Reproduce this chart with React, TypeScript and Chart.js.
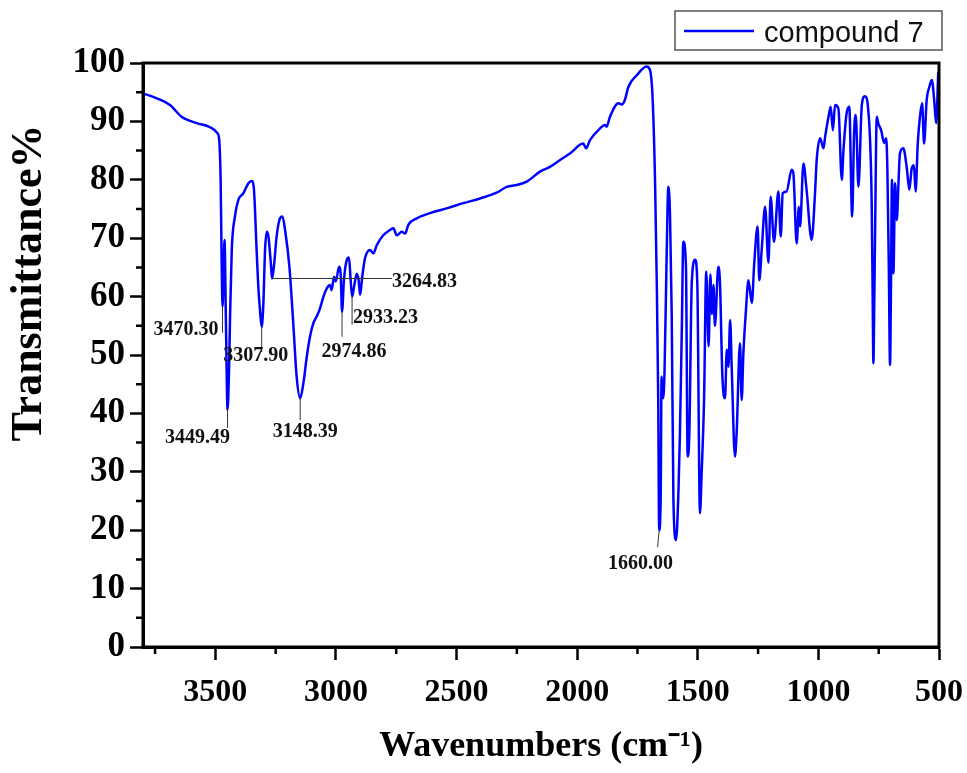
import { useEffect, useRef } from 'react';
import { Chart, registerables } from 'chart.js';

Chart.register(...registerables);

// ---- data ----
const seriesLabel = 'compound 7';

const wavenumbers = [
  3800, 3745, 3688, 3640, 3577, 3522, 3492, 3484, 3478, 3474, 3470.3, 3466, 3462, 3456, 3449.5, 3443, 3439, 3432,
  3419, 3405, 3384, 3363, 3349, 3340, 3329, 3322, 3315, 3308, 3301, 3294, 3287, 3280, 3270, 3264.8, 3256, 3246,
  3232, 3222, 3211, 3193, 3177, 3163, 3148.4, 3135, 3121, 3108, 3094, 3080, 3066, 3052, 3038, 3025, 3018, 3008,
  3001, 2987, 2980, 2974.9, 2967, 2955, 2946, 2940, 2933.2, 2925, 2914, 2906, 2900, 2891, 2880, 2859, 2845, 2831,
  2804, 2776, 2762, 2748, 2727, 2713, 2700, 2665, 2610, 2541, 2472, 2403, 2334, 2292, 2251, 2209, 2154, 2113,
  2071, 2030, 1975, 1963, 1947, 1905, 1885, 1878, 1864, 1829, 1815, 1802, 1788, 1753, 1712, 1698, 1687, 1677,
  1670, 1664, 1660, 1654, 1650, 1644, 1638, 1630, 1622, 1615, 1608, 1601, 1590, 1580, 1574, 1566, 1560, 1549,
  1542, 1535, 1525, 1511, 1502, 1491, 1484, 1474, 1465, 1455, 1448, 1441, 1435, 1429, 1415, 1408, 1398, 1387,
  1380, 1373, 1366, 1359, 1346, 1339, 1325, 1318, 1311, 1301, 1290, 1276, 1266, 1252, 1245, 1235, 1221, 1207,
  1198, 1184, 1166, 1156, 1148, 1132, 1111, 1104, 1090, 1081, 1076, 1062, 1049, 1028, 1014, 1007, 993, 979,
  972, 958, 949, 940, 931, 917, 903, 896, 883, 872, 860, 852, 845, 834, 820, 807, 793, 779, 775, 772, 768, 765,
  758, 752, 740, 727, 719, 714, 708, 703, 699, 695, 689, 682, 675, 668, 662, 648, 634, 623, 613, 604, 597, 588,
  579, 570, 562, 551, 540, 530, 520, 512, 503,
];

const transmittance = [
  94.8, 94.0, 92.8, 90.8, 89.7, 89.0, 88.0, 86.8, 79.5, 66.3, 58.3, 64.0, 69.7, 55.0, 40.6, 48.0, 56.6, 68.0,
  73.7, 76.5, 77.7, 79.4, 79.8, 78.3, 68.0, 61.7, 57.7, 54.8, 58.8, 68.0, 71.1, 70.3, 65.7, 63.1, 65.7, 70.3,
  73.4, 73.7, 71.4, 65.1, 55.4, 46.3, 42.6, 45.2, 49.7, 53.1, 55.4, 56.6, 58.0, 60.0, 61.4, 62.0, 61.1, 63.4,
  62.6, 65.1, 63.4, 57.4, 62.8, 66.3, 66.7, 63.4, 60.0, 61.7, 63.9, 62.8, 60.3, 63.4, 66.5, 68.0, 67.4, 68.8,
  70.5, 71.4, 71.7, 70.5, 71.1, 70.8, 72.3, 73.4, 74.3, 75.1, 76.0, 76.8, 77.8, 78.8, 79.1, 79.7, 81.4, 82.2,
  83.4, 84.5, 86.2, 85.4, 86.8, 88.8, 89.4, 89.1, 90.8, 93.1, 92.9, 93.7, 95.9, 97.9, 99.4, 98.8, 93.7, 79.4,
  62.3, 42.3, 20.0, 25.2, 46.3, 42.6, 47.0, 65.0, 78.8, 73.7, 56.6, 25.2, 18.3, 26.9, 36.6, 55.0, 69.4, 65.1,
  32.6, 36.6, 62.3, 66.3, 62.3, 22.9, 29.8, 42.3, 64.3, 51.5, 63.8, 57.0, 62.0, 55.0, 65.1, 62.3, 46.3, 42.6,
  50.9, 48.0, 56.0, 47.4, 32.6, 36.6, 52.0, 42.3, 50.3, 57.2, 62.8, 58.9, 65.7, 72.0, 62.8, 68.0, 75.4, 65.8,
  77.1, 69.4, 78.0, 70.3, 77.7, 78.0, 81.7, 81.2, 69.1, 75.4, 72.0, 82.8, 78.3, 69.7, 77.7, 83.4, 87.1, 85.4,
  87.4, 90.8, 92.5, 88.5, 92.8, 92.2, 80.0, 85.1, 91.4, 92.5, 73.7, 88.0, 91.1, 78.8, 92.8, 94.3, 91.8, 76.0, 60.0, 48.6, 60.0, 70.8,
  90.8, 89.7, 88.5, 86.3, 87.1, 81.7, 65.0, 48.3, 62.0, 80.0, 64.0, 79.4, 73.1, 79.4, 84.5, 85.4, 82.2, 78.3, 82.0, 82.5, 78.0, 86.2,
  90.8, 93.1, 86.2, 93.7, 95.9, 97.1, 93.7, 89.7, 98.5,
];

const xTickValues = [3500, 3000, 2500, 2000, 1500, 1000, 500];
const xMinorTickValues = [3750, 3250, 2750, 2250, 1750, 1250, 750];
const yTickValues = [0, 10, 20, 30, 40, 50, 60, 70, 80, 90, 100];
const yMinorTickValues = [5, 15, 25, 35, 45, 55, 65, 75, 85, 95];

const xAxisTitle = 'Wavenumbers (cm⁻¹)';
const yAxisTitle = 'Transmittance%';

// peak annotations
const peakLabels = ['3470.30', '3449.49', '3307.90', '3264.83', '3148.39', '2974.86', '2933.23', '1660.00'];
const peakWavenumbers = [3470.3, 3449.49, 3307.9, 3264.83, 3148.39, 2974.86, 2933.23, 1660.0];
const peakTransmittance = [58.3, 40.6, 54.8, 63.1, 42.6, 57.4, 60.0, 20.0];

// callout layout (pixels): leader direction/length and label offset from the leader end
const calloutLayout = [
  { dir: 'down', len: 26, dx: -4, dy: -3, align: 'right' },
  { dir: 'down', len: 18, dx: -30, dy: 10, align: 'center' },
  { dir: 'down', len: 25, dx: -6, dy: 4, align: 'center' },
  { dir: 'right', len: 120, dx: 0, dy: 3, align: 'left' },
  { dir: 'down', len: 22, dx: 5, dy: 12, align: 'center' },
  { dir: 'down', len: 25, dx: 12, dy: 15, align: 'center' },
  { dir: 'down', len: 28, dx: 1, dy: -7, align: 'left' },
  { dir: 'slant', len: 17, dx: -17, dy: 17, align: 'center' },
];

const serif = "'Liberation Serif', 'Times New Roman', serif";
const sans = "'Liberation Sans', Arial, sans-serif";

const decorPlugin = {
  id: 'decor',
  afterDraw(chart: any) {
    const { ctx, chartArea: a } = chart;
    const xs = chart.scales.x;
    const ys = chart.scales.y;
    ctx.save();

    // frame
    ctx.strokeStyle = '#000';
    ctx.lineWidth = 3;
    ctx.strokeRect(a.left, a.top, a.right - a.left, a.bottom - a.top);

    // minor ticks
    ctx.lineWidth = 2.5;
    ctx.beginPath();
    for (const v of xMinorTickValues) {
      const px = xs.getPixelForValue(v);
      ctx.moveTo(px, a.bottom);
      ctx.lineTo(px, a.bottom + 7);
    }
    for (const v of yMinorTickValues) {
      const py = ys.getPixelForValue(v);
      ctx.moveTo(a.left - 7, py);
      ctx.lineTo(a.left, py);
    }
    ctx.stroke();

    // peak callouts
    ctx.font = `bold 20px ${serif}`;
    ctx.fillStyle = '#111';
    ctx.textBaseline = 'middle';
    peakLabels.forEach((label, i) => {
      const L = calloutLayout[i];
      const px = xs.getPixelForValue(peakWavenumbers[i]);
      const py = ys.getPixelForValue(peakTransmittance[i]);
      let ex = px;
      let ey = py;
      if (L.dir === 'down') ey = py + L.len;
      else if (L.dir === 'right') ex = px + L.len;
      else { ex = px - 1.6; ey = py + L.len; }
      ctx.strokeStyle = '#333';
      ctx.lineWidth = 1;
      ctx.beginPath();
      ctx.moveTo(px, py);
      ctx.lineTo(ex, ey);
      ctx.stroke();
      ctx.textAlign = L.align as CanvasTextAlign;
      ctx.fillText(label, ex + L.dx, ey + L.dy);
    });

    // y axis title
    ctx.save();
    ctx.translate(30, 283);
    ctx.rotate(-Math.PI / 2);
    ctx.font = `bold 44px ${serif}`;
    ctx.fillStyle = '#000';
    ctx.textAlign = 'center';
    ctx.textBaseline = 'middle';
    ctx.fillText(yAxisTitle, 0, 0);
    ctx.restore();

    // legend box
    const lx = 675, ly = 11, lw = 267, lh = 39;
    ctx.fillStyle = '#fff';
    ctx.fillRect(lx, ly, lw, lh);
    ctx.strokeStyle = '#555';
    ctx.lineWidth = 1.5;
    ctx.strokeRect(lx, ly, lw, lh);
    ctx.strokeStyle = '#0000ff';
    ctx.lineWidth = 2.5;
    ctx.beginPath();
    ctx.moveTo(684, 31);
    ctx.lineTo(754, 31);
    ctx.stroke();
    ctx.font = `29px ${sans}`;
    ctx.fillStyle = '#111';
    ctx.textAlign = 'left';
    ctx.textBaseline = 'alphabetic';
    ctx.fillText(chart.data.datasets[0].label, 764, 42);

    ctx.restore();
  },
};

export default function App() {
  const ref = useRef<HTMLCanvasElement>(null);
  useEffect(() => {
    const canvas = ref.current;
    if (!canvas) return;
    const chart = new Chart(canvas, {
      type: 'line',
      data: {
        datasets: [
          {
            label: seriesLabel,
            data: wavenumbers.map((w, i) => ({ x: w, y: transmittance[i] })),
            borderColor: '#0000ff',
            borderWidth: 2.5,
            pointRadius: 0,
            fill: false,
            cubicInterpolationMode: 'monotone',
          },
        ],
      },
      options: {
        responsive: false,
        animation: false,
        layout: { padding: { left: 0, right: 28, top: 63, bottom: 0 } },
        plugins: { legend: { display: false }, tooltip: { enabled: false } },
        scales: {
          x: {
            type: 'linear',
            reverse: true,
            min: 500,
            max: 3800,
            afterBuildTicks: (s: any) => {
              s.ticks = xTickValues.map((v) => ({ value: v }));
            },
            afterFit: (s: any) => {
              s.height = 126;
              s.paddingLeft = 0;
              s.paddingRight = 0;
            },
            ticks: {
              autoSkip: false,
              maxRotation: 0,
              padding: 14,
              color: '#000',
              font: { family: serif, weight: 'bold', size: 32 },
              callback: (v: any) => String(v),
            },
            grid: { drawOnChartArea: false, drawTicks: true, tickLength: 13, tickWidth: 2.5, tickColor: '#000' },
            border: { display: true, color: '#000', width: 3 },
            title: {
              display: true,
              text: xAxisTitle,
              color: '#000',
              font: { family: serif, weight: 'bold', size: 36 },
              padding: { top: 0, bottom: 5 },
            },
          },
          y: {
            type: 'linear',
            min: 0,
            max: 100,
            afterBuildTicks: (s: any) => {
              s.ticks = yTickValues.map((v) => ({ value: v }));
            },
            afterFit: (s: any) => {
              s.width = 143;
              s.paddingTop = 0;
              s.paddingBottom = 0;
            },
            ticks: {
              autoSkip: false,
              padding: 5,
              color: '#000',
              font: { family: serif, weight: 'bold', size: 35 },
              callback: (v: any) => String(v),
            },
            grid: { drawOnChartArea: false, drawTicks: true, tickLength: 13, tickWidth: 2.5, tickColor: '#000' },
            border: { display: true, color: '#000', width: 3 },
          },
        },
      },
      plugins: [decorPlugin],
    });
    return () => chart.destroy();
  }, []);
  return (
    <div style={{ position: 'fixed', left: 0, top: 0, width: 967, height: 773, background: '#fff' }}>
      <canvas ref={ref} width={967} height={773} style={{ display: 'block' }} />
    </div>
  );
}
